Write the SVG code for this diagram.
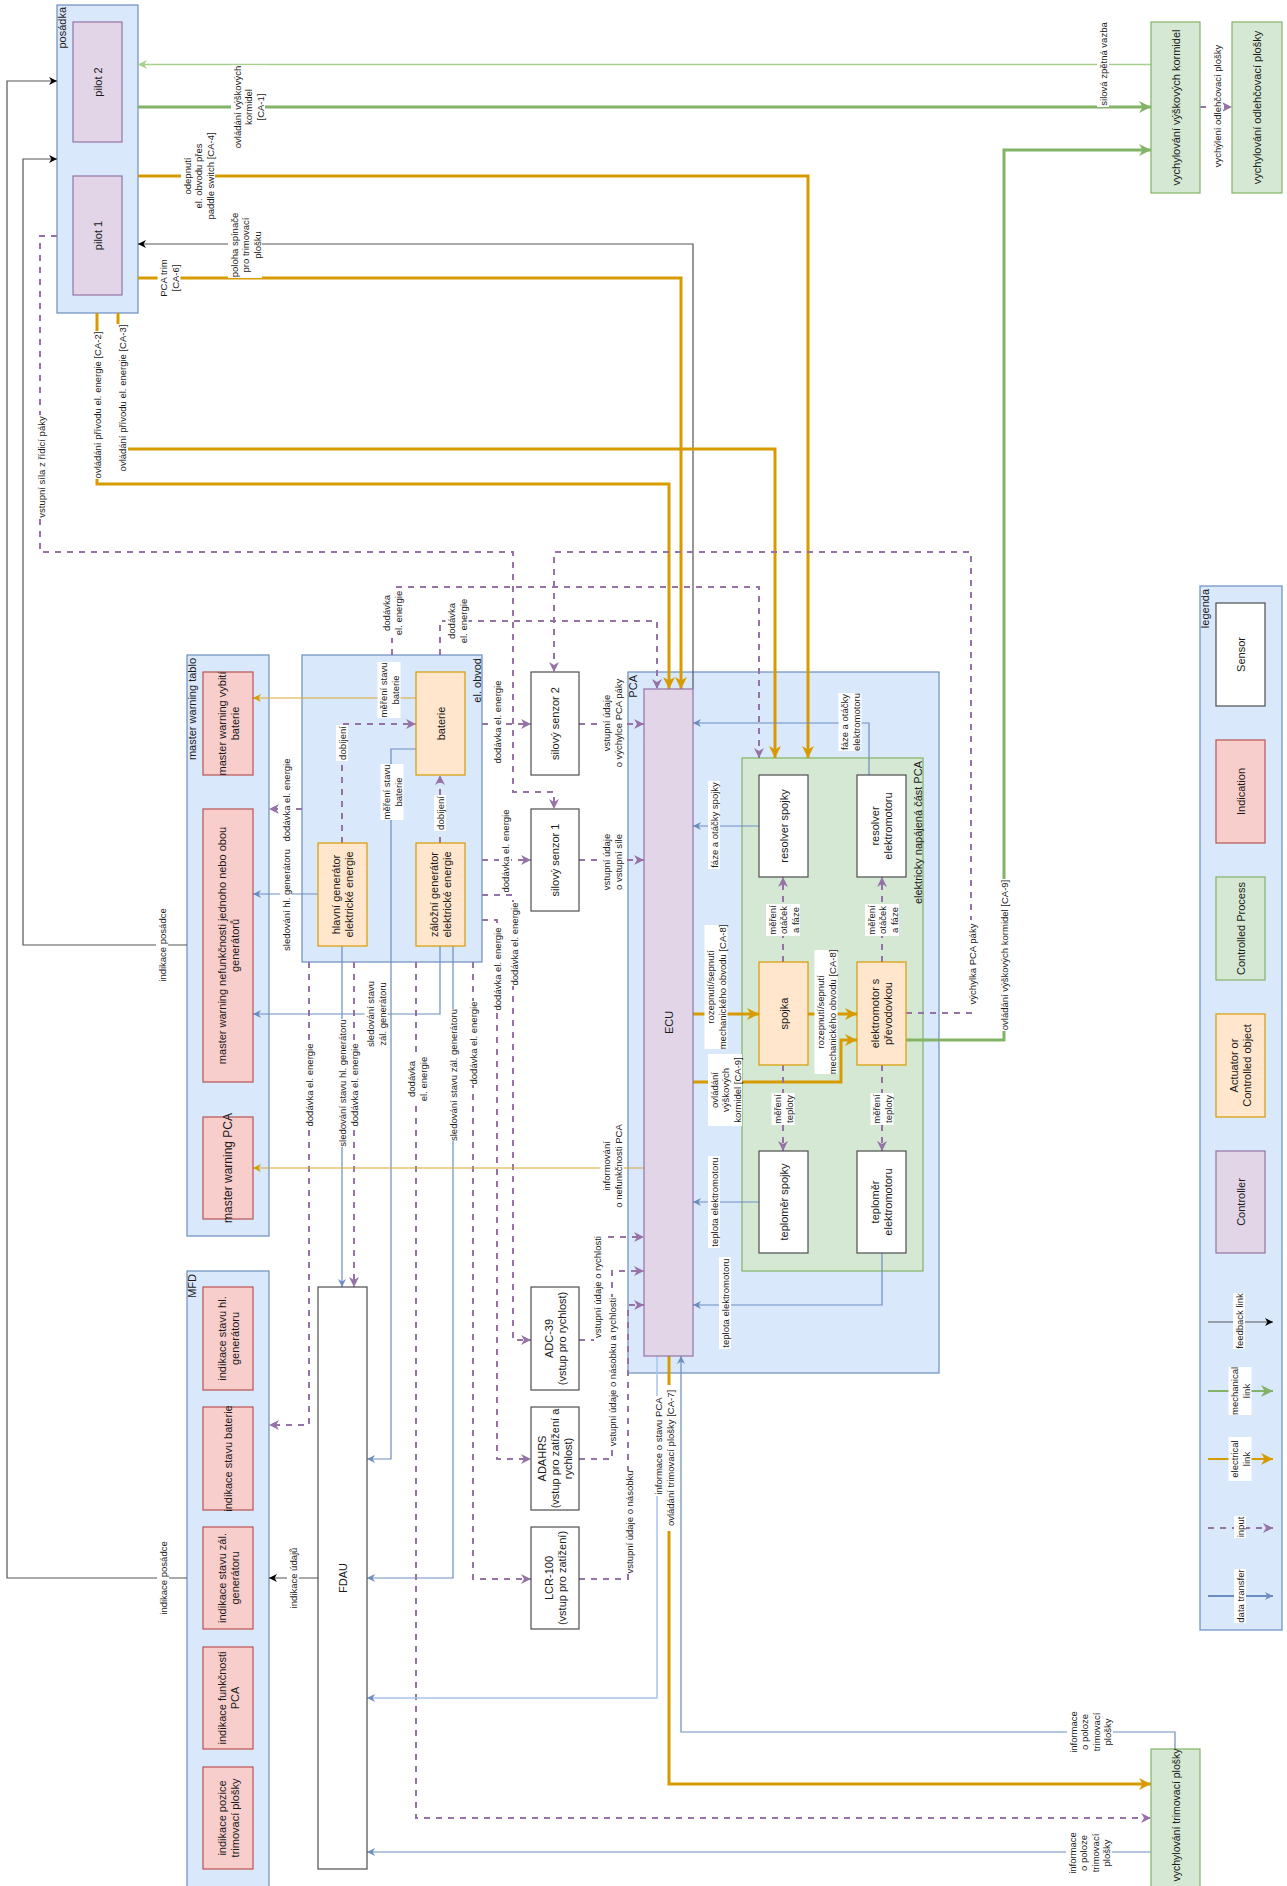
<svg xmlns="http://www.w3.org/2000/svg" width="1287" height="1886" viewBox="0 0 1287 1886">
<style>
.c{fill:#dae8fc;stroke:#6c8ebf;stroke-width:1.2}
.p{fill:#e1d5e7;stroke:#9673a6;stroke-width:1.2}
.g{fill:#d5e8d4;stroke:#82b366;stroke-width:1.2}
.o{fill:#ffe6cc;stroke:#d79b00;stroke-width:1.2}
.r{fill:#f8cecc;stroke:#b85450;stroke-width:1.2}
.s{fill:#ffffff;stroke:#4d4d4d;stroke-width:1.2}
text{font-family:"Liberation Sans",Arial,sans-serif;dominant-baseline:central;text-anchor:middle;fill:#1a1a1a}
.n{font-size:11px}
.e{font-size:9.5px}
.tl{text-anchor:end}
.bg{fill:#ffffff}
.lo{stroke:#d79b00;stroke-width:3;fill:none}
.lot{stroke:#dca733;stroke-width:1.2;fill:none}
.lb{stroke:#6c8ebf;stroke-width:1.2;fill:none}
.lbl{stroke:#a9c4eb;stroke-width:1.5;fill:none}
.lp{stroke:#9673a6;stroke-width:2;stroke-dasharray:6 6;fill:none}
.lg{stroke:#82b366;stroke-width:3;fill:none}
.lgt{stroke:#a8d08d;stroke-width:1.4;fill:none}
.lk{stroke:#555555;stroke-width:1.2;fill:none}
</style>
<defs>
<marker id="ao" viewBox="0 0 10 10" refX="10" refY="5" markerWidth="12" markerHeight="12" markerUnits="userSpaceOnUse" orient="auto"><path d="M0,0L10,5L0,10L3,5z" fill="#d79b00"/></marker>
<marker id="aot" viewBox="0 0 10 10" refX="10" refY="5" markerWidth="8" markerHeight="8" markerUnits="userSpaceOnUse" orient="auto"><path d="M0,0L10,5L0,10L3,5z" fill="#d79b00"/></marker>
<marker id="ab" viewBox="0 0 10 10" refX="10" refY="5" markerWidth="8" markerHeight="8" markerUnits="userSpaceOnUse" orient="auto"><path d="M0,0L10,5L0,10L3,5z" fill="#6c8ebf"/></marker>
<marker id="ap" viewBox="0 0 10 10" refX="10" refY="5" markerWidth="10" markerHeight="10" markerUnits="userSpaceOnUse" orient="auto"><path d="M0,0L10,5L0,10L3,5z" fill="#9673a6"/></marker>
<marker id="ag" viewBox="0 0 10 10" refX="10" refY="5" markerWidth="12" markerHeight="12" markerUnits="userSpaceOnUse" orient="auto"><path d="M0,0L10,5L0,10L3,5z" fill="#82b366"/></marker>
<marker id="agt" viewBox="0 0 10 10" refX="10" refY="5" markerWidth="9" markerHeight="9" markerUnits="userSpaceOnUse" orient="auto"><path d="M0,0L10,5L0,10L3,5z" fill="#a8d08d"/></marker>
<marker id="ak" viewBox="0 0 10 10" refX="10" refY="5" markerWidth="8" markerHeight="8" markerUnits="userSpaceOnUse" orient="auto"><path d="M0,0L10,5L0,10L3,5z" fill="#000000"/></marker>
</defs>
<rect width="1287" height="1886" fill="#ffffff"/>

<g id="containers">
<g id="posadka"><rect class="c" x="57" y="5" width="81" height="308"/><text class="n tl" transform="translate(61.5,7) rotate(-90)">posádka</text></g>
<g id="mw-tablo"><rect class="c" x="187" y="655" width="82" height="581"/><text class="n tl" transform="translate(192,658) rotate(-90)">master warning tablo</text></g>
<g id="mfd"><rect class="c" x="187" y="1271" width="82" height="625"/><text class="n tl" transform="translate(192,1274) rotate(-90)">MFD</text></g>
<g id="el-obvod"><rect class="c" x="302" y="655" width="180" height="307"/><text class="n tl" transform="translate(477,658) rotate(-90)">el. obvod</text></g>
<g id="pca"><rect class="c" x="628" y="672" width="311" height="701"/><text class="n tl" transform="translate(633,675) rotate(-90)">PCA</text></g>
<g id="pca-el"><rect class="g" x="742" y="758" width="181" height="513"/><text class="n tl" transform="translate(918,761) rotate(-90)">elektricky napájená část PCA</text></g>
<g id="legenda"><rect class="c" x="1200" y="586" width="82" height="1044"/><text class="n tl" transform="translate(1205,589) rotate(-90)">legenda</text></g>
</g>

<g id="connectors">
<path class="lgt" d="M1151,64.5H138" marker-end="url(#agt)"/>
<path class="lg" d="M138,107H1151" marker-end="url(#ag)"/>
<path class="lg" d="M906,1040H1004V150H1151" marker-end="url(#ag)"/>
<path class="lp" d="M1200,107H1232" marker-end="url(#ap)"/>
<path class="lo" d="M138,176H808V758" marker-end="url(#ao)"/>
<path class="lk" d="M693,689V244H138" marker-end="url(#ak)"/>
<path class="lo" d="M138,278H681V689" marker-end="url(#ao)"/>
<path class="lo" d="M118,313V449H775V758" marker-end="url(#ao)"/>
<path class="lo" d="M97,313V484H669V689" marker-end="url(#ao)"/>
<path class="lp" d="M57,236H40V552H513V792H554V809" marker-end="url(#ap)"/>
<path class="lp" d="M906,1013H971V552H554V672" marker-end="url(#ap)"/>
<path class="lp" d="M392,655V587H759V758" marker-end="url(#ap)"/>
<path class="lp" d="M440,655V621H657V689" marker-end="url(#ap)"/>
<path class="lot" d="M416,698H253" marker-end="url(#aot)"/>
<path class="lp" d="M342,843V724H416" marker-end="url(#ap)"/>
<path class="lp" d="M440,843V775" marker-end="url(#ap)"/>
<path class="lb" d="M416,749H391V1459H367" marker-end="url(#ab)"/>
<path class="lp" d="M302,809H269" marker-end="url(#ap)"/>
<path class="lb" d="M318,894H253" marker-end="url(#ab)"/>
<path class="lb" d="M440,946V1014H253" marker-end="url(#ab)"/>
<path class="lb" d="M453,946V1578H367" marker-end="url(#ab)"/>
<path class="lb" d="M342,946V1287" marker-end="url(#ab)"/>
<path class="lp" d="M354,962V1287" marker-end="url(#ap)"/>
<path class="lp" d="M309,962V1425H269" marker-end="url(#ap)"/>
<path class="lp" d="M416,962V1818H1151" marker-end="url(#ap)"/>
<path class="lp" d="M473,962V1579H531" marker-end="url(#ap)"/>
<path class="lp" d="M482,724H531" marker-end="url(#ap)"/>
<path class="lp" d="M482,860H531" marker-end="url(#ap)"/>
<path class="lp" d="M482,895H513V1340H531" marker-end="url(#ap)"/>
<path class="lp" d="M482,920H497V1459H531" marker-end="url(#ap)"/>
<path class="lp" d="M579,724H644" marker-end="url(#ap)"/>
<path class="lp" d="M579,860H644" marker-end="url(#ap)"/>
<path class="lp" d="M579,1340H593V1237H644" marker-end="url(#ap)"/>
<path class="lp" d="M579,1459H612V1271H644" marker-end="url(#ap)"/>
<path class="lp" d="M579,1579H628V1305H644" marker-end="url(#ap)"/>
<path class="lo" d="M693,1014H759" marker-end="url(#ao)"/>
<path class="lo" d="M808,1014H857" marker-end="url(#ao)"/>
<path class="lo" d="M693,1082H841V1040H857" marker-end="url(#ao)"/>
<path class="lot" d="M644,1168H253" marker-end="url(#aot)"/>
<path class="lb" d="M759,1202H693" marker-end="url(#ab)"/>
<path class="lb" d="M882,1253V1305H693" marker-end="url(#ab)"/>
<path class="lb" d="M759,826H693" marker-end="url(#ab)"/>
<path class="lb" d="M869,775V723H693" marker-end="url(#ab)"/>
<path class="lp" d="M783,962V877" marker-end="url(#ap)"/>
<path class="lp" d="M882,962V877" marker-end="url(#ap)"/>
<path class="lp" d="M783,1065V1151" marker-end="url(#ap)"/>
<path class="lp" d="M882,1065V1151" marker-end="url(#ap)"/>
<path class="lbl" d="M657,1356V1698H367" marker-end="url(#ab)"/>
<path class="lo" d="M669,1356V1784H1151" marker-end="url(#ao)"/>
<path class="lb" d="M1175,1749V1732H681V1356" marker-end="url(#ab)"/>
<path class="lb" d="M1151,1852H367" marker-end="url(#ab)"/>
<path class="lk" d="M318,1578H269" marker-end="url(#ak)"/>
<path class="lk" d="M187,1578H7V81H57" marker-end="url(#ak)"/>
<path class="lk" d="M187,945H23V159H57" marker-end="url(#ak)"/>
<!-- legend lines -->
<path class="lk" d="M1208,1322H1273" marker-end="url(#ak)"/>
<path class="lg" style="stroke-width:2" d="M1208,1391H1273" marker-end="url(#ag)"/>
<path class="lo" style="stroke-width:2" d="M1208,1459H1273" marker-end="url(#ao)"/>
<path class="lp" d="M1208,1528H1273" marker-end="url(#ap)"/>
<path class="lb" style="stroke-width:2" d="M1208,1596H1273" marker-end="url(#ab)"/>

<!-- edge labels -->
<g transform="translate(1103,64) rotate(-90)"><rect class="bg" x="-43" y="-6" width="86" height="12"/><text class="e">silová zpětná vazba</text></g>
<g transform="translate(248,107) rotate(-90)"><rect class="bg" x="-42" y="-17" width="84" height="34"/><text class="e"><tspan x="0" y="-11.5">ovládání výškových</tspan><tspan x="0" y="0">kormidel</tspan><tspan x="0" y="11.5">[CA-1]</tspan></text></g>
<g transform="translate(198,176) rotate(-90)"><rect class="bg" x="-46" y="-17" width="92" height="34"/><text class="e"><tspan x="0" y="-11.5">odepnutí</tspan><tspan x="0" y="0">el. obvodu přes</tspan><tspan x="0" y="11.5">paddle switch [CA-4]</tspan></text></g>
<g transform="translate(245,245) rotate(-90)"><rect class="bg" x="-33" y="-17" width="66" height="34"/><text class="e"><tspan x="0" y="-11.5">poloha spínače</tspan><tspan x="0" y="0">pro trimovací</tspan><tspan x="0" y="11.5">plošku</tspan></text></g>
<g transform="translate(169,278) rotate(-90)"><rect class="bg" x="-20" y="-11.5" width="40" height="23"/><text class="e"><tspan x="0" y="-5.75">PCA trim</tspan><tspan x="0" y="5.75">[CA-6]</tspan></text></g>
<g transform="translate(97,405) rotate(-90)"><rect class="bg" x="-74" y="-6" width="148" height="12"/><text class="e">ovládání přívodu el. energie [CA-2]</text></g>
<g transform="translate(122,398) rotate(-90)"><rect class="bg" x="-74" y="-6" width="148" height="12"/><text class="e">ovládání přívodu el. energie [CA-3]</text></g>
<g transform="translate(41,467) rotate(-90)"><rect class="bg" x="-52" y="-6" width="104" height="12"/><text class="e">vstupní síla z řídicí páky</text></g>
<g transform="translate(1217,106) rotate(-90)"><rect class="bg" x="-61" y="-6" width="122" height="12"/><text class="e">vychýlení odlehčovací plošky</text></g>
<g transform="translate(1004,955) rotate(-90)"><rect class="bg" x="-76" y="-6" width="152" height="12"/><text class="e">ovládání výškových kormidel [CA-9]</text></g>
<g transform="translate(972,964) rotate(-90)"><rect class="bg" x="-44" y="-6" width="88" height="12"/><text class="e">výchylka PCA páky</text></g>
<g transform="translate(392,613) rotate(-90)"><rect class="bg" x="-25" y="-11.5" width="50" height="23"/><text class="e"><tspan x="0" y="-5.75">dodávka</tspan><tspan x="0" y="5.75">el. energie</tspan></text></g>
<g transform="translate(457,621) rotate(-90)"><rect class="bg" x="-25" y="-11.5" width="50" height="23"/><text class="e"><tspan x="0" y="-5.75">dodávka</tspan><tspan x="0" y="5.75">el. energie</tspan></text></g>
<g transform="translate(389,690) rotate(-90)"><rect class="bg" x="-28" y="-11.5" width="56" height="23"/><text class="e"><tspan x="0" y="-5.75">měření stavu</tspan><tspan x="0" y="5.75">baterie</tspan></text></g>
<g transform="translate(342,743) rotate(-90)"><rect class="bg" x="-18" y="-6" width="36" height="12"/><text class="e">dobíjení</text></g>
<g transform="translate(392,792) rotate(-90)"><rect class="bg" x="-28" y="-11.5" width="56" height="23"/><text class="e"><tspan x="0" y="-5.75">měření stavu</tspan><tspan x="0" y="5.75">baterie</tspan></text></g>
<g transform="translate(440,813) rotate(-90)"><rect class="bg" x="-18" y="-6" width="36" height="12"/><text class="e">dobíjení</text></g>
<g transform="translate(286,800) rotate(-90)"><rect class="bg" x="-42" y="-6" width="84" height="12"/><text class="e">dodávka el. energie</text></g>
<g transform="translate(286,900) rotate(-90)"><rect class="bg" x="-53" y="-6" width="106" height="12"/><text class="e">sledování hl. generátoru</text></g>
<g transform="translate(497,722) rotate(-90)"><rect class="bg" x="-42" y="-6" width="84" height="12"/><text class="e">dodávka el. energie</text></g>
<g transform="translate(505,851) rotate(-90)"><rect class="bg" x="-42" y="-6" width="84" height="12"/><text class="e">dodávka el. energie</text></g>
<g transform="translate(514,944) rotate(-90)"><rect class="bg" x="-42" y="-6" width="84" height="12"/><text class="e">dodávka el. energie</text></g>
<g transform="translate(497,969) rotate(-90)"><rect class="bg" x="-42" y="-6" width="84" height="12"/><text class="e">dodávka el. energie</text></g>
<g transform="translate(376,1014) rotate(-90)"><rect class="bg" x="-33" y="-11.5" width="66" height="23"/><text class="e"><tspan x="0" y="-5.75">sledování stavu</tspan><tspan x="0" y="5.75">zál. generátoru</tspan></text></g>
<g transform="translate(342,1083) rotate(-90)"><rect class="bg" x="-64" y="-6" width="128" height="12"/><text class="e">sledování stavu hl. generátoru</text></g>
<g transform="translate(354,1085) rotate(-90)"><rect class="bg" x="-42" y="-6" width="84" height="12"/><text class="e">dodávka el. energie</text></g>
<g transform="translate(309,1085) rotate(-90)"><rect class="bg" x="-42" y="-6" width="84" height="12"/><text class="e">dodávka el. energie</text></g>
<g transform="translate(417,1079) rotate(-90)"><rect class="bg" x="-25" y="-11.5" width="50" height="23"/><text class="e"><tspan x="0" y="-5.75">dodávka</tspan><tspan x="0" y="5.75">el. energie</tspan></text></g>
<g transform="translate(473,1043) rotate(-90)"><rect class="bg" x="-42" y="-6" width="84" height="12"/><text class="e">dodávka el. energie</text></g>
<g transform="translate(453,1075) rotate(-90)"><rect class="bg" x="-66" y="-6" width="132" height="12"/><text class="e">sledování stavu zál. generátoru</text></g>
<g transform="translate(612,723) rotate(-90)"><rect class="bg" x="-43" y="-11.5" width="86" height="23"/><text class="e"><tspan x="0" y="-5.75">vstupní údaje</tspan><tspan x="0" y="5.75">o výchylce PCA páky</tspan></text></g>
<g transform="translate(612,862) rotate(-90)"><rect class="bg" x="-31" y="-11.5" width="62" height="23"/><text class="e"><tspan x="0" y="-5.75">vstupní údaje</tspan><tspan x="0" y="5.75">o vstupní síle</tspan></text></g>
<g transform="translate(850,722) rotate(-90)"><rect class="bg" x="-29" y="-11.5" width="58" height="23"/><text class="e"><tspan x="0" y="-5.75">fáze a otáčky</tspan><tspan x="0" y="5.75">elektromotoru</tspan></text></g>
<g transform="translate(714,825) rotate(-90)"><rect class="bg" x="-44" y="-6" width="88" height="12"/><text class="e">fáze a otáčky spojky</text></g>
<g transform="translate(783,920) rotate(-90)"><rect class="bg" x="-16" y="-17" width="32" height="34"/><text class="e"><tspan x="0" y="-11.5">měření</tspan><tspan x="0" y="0">otáček</tspan><tspan x="0" y="11.5">a fáze</tspan></text></g>
<g transform="translate(882,920) rotate(-90)"><rect class="bg" x="-16" y="-17" width="32" height="34"/><text class="e"><tspan x="0" y="-11.5">měření</tspan><tspan x="0" y="0">otáček</tspan><tspan x="0" y="11.5">a fáze</tspan></text></g>
<g transform="translate(716,987) rotate(-90)"><rect class="bg" x="-62" y="-11.5" width="124" height="23"/><text class="e"><tspan x="0" y="-5.75">rozepnutí/sepnutí</tspan><tspan x="0" y="5.75">mechanického obvodu [CA-8]</tspan></text></g>
<g transform="translate(826,1012) rotate(-90)"><rect class="bg" x="-62" y="-11.5" width="124" height="23"/><text class="e"><tspan x="0" y="-5.75">rozepnutí/sepnutí</tspan><tspan x="0" y="5.75">mechanického obvodu [CA-8]</tspan></text></g>
<g transform="translate(725,1090) rotate(-90)"><rect class="bg" x="-36" y="-17" width="72" height="34"/><text class="e"><tspan x="0" y="-11.5">ovládání</tspan><tspan x="0" y="0">výškových</tspan><tspan x="0" y="11.5">kormidel [CA-9]</tspan></text></g>
<g transform="translate(783,1109) rotate(-90)"><rect class="bg" x="-16" y="-11.5" width="32" height="23"/><text class="e"><tspan x="0" y="-5.75">měření</tspan><tspan x="0" y="5.75">teploty</tspan></text></g>
<g transform="translate(882,1109) rotate(-90)"><rect class="bg" x="-16" y="-11.5" width="32" height="23"/><text class="e"><tspan x="0" y="-5.75">měření</tspan><tspan x="0" y="5.75">teploty</tspan></text></g>
<g transform="translate(612,1166) rotate(-90)"><rect class="bg" x="-42" y="-11.5" width="84" height="23"/><text class="e"><tspan x="0" y="-5.75">informování</tspan><tspan x="0" y="5.75">o nefunkčnosti PCA</tspan></text></g>
<g transform="translate(714,1202) rotate(-90)"><rect class="bg" x="-46" y="-6" width="92" height="12"/><text class="e">teplota elektromotoru</text></g>
<g transform="translate(725,1303) rotate(-90)"><rect class="bg" x="-46" y="-6" width="92" height="12"/><text class="e">teplota elektromotoru</text></g>
<g transform="translate(597,1287) rotate(-90)"><rect class="bg" x="-52" y="-6" width="104" height="12"/><text class="e">vstupní údaje o rychlosti</text></g>
<g transform="translate(612,1372) rotate(-90)"><rect class="bg" x="-75" y="-6" width="150" height="12"/><text class="e">vstupní údaje o násobku a rychlosti</text></g>
<g transform="translate(629,1522) rotate(-90)"><rect class="bg" x="-51" y="-6" width="102" height="12"/><text class="e">vstupní údaje o násobku</text></g>
<g transform="translate(658,1446) rotate(-90)"><rect class="bg" x="-50" y="-6" width="100" height="12"/><text class="e">informace o stavu PCA</text></g>
<g transform="translate(670,1458) rotate(-90)"><rect class="bg" x="-73" y="-6" width="146" height="12"/><text class="e">ovládání trimovací plošky [CA-7]</text></g>
<g transform="translate(1090,1732) rotate(-90)"><rect class="bg" x="-22" y="-23" width="44" height="46"/><text class="e"><tspan x="0" y="-17.25">informace</tspan><tspan x="0" y="-5.75">o poloze</tspan><tspan x="0" y="5.75">trimovací</tspan><tspan x="0" y="17.25">plošky</tspan></text></g>
<g transform="translate(1089,1853) rotate(-90)"><rect class="bg" x="-22" y="-23" width="44" height="46"/><text class="e"><tspan x="0" y="-17.25">informace</tspan><tspan x="0" y="-5.75">o poloze</tspan><tspan x="0" y="5.75">trimovací</tspan><tspan x="0" y="17.25">plošky</tspan></text></g>
<g transform="translate(293,1578) rotate(-90)"><rect class="bg" x="-31" y="-6" width="62" height="12"/><text class="e">indikace údajů</text></g>
<g transform="translate(163,1578) rotate(-90)"><rect class="bg" x="-37" y="-6" width="74" height="12"/><text class="e">indikace posádce</text></g>
<g transform="translate(162,945) rotate(-90)"><rect class="bg" x="-37" y="-6" width="74" height="12"/><text class="e">indikace posádce</text></g>
<g transform="translate(1239,1321) rotate(-90)"><rect class="bg" x="-28" y="-6" width="56" height="12"/><text class="e">feedback link</text></g>
<g transform="translate(1240,1391) rotate(-90)"><rect class="bg" x="-24" y="-11.5" width="48" height="23"/><text class="e"><tspan x="0" y="-5.75">mechanical</tspan><tspan x="0" y="5.75">link</tspan></text></g>
<g transform="translate(1240,1459) rotate(-90)"><rect class="bg" x="-22" y="-11.5" width="44" height="23"/><text class="e"><tspan x="0" y="-5.75">electrical</tspan><tspan x="0" y="5.75">link</tspan></text></g>
<g transform="translate(1240,1527) rotate(-90)"><rect class="bg" x="-11" y="-6" width="22" height="12"/><text class="e">input</text></g>
<g transform="translate(1240,1596) rotate(-90)"><rect class="bg" x="-27" y="-6" width="54" height="12"/><text class="e">data transfer</text></g>
</g>

<g id="nodes">
<g id="pilot2"><rect class="p" x="73" y="22" width="49" height="120"/><text class="n" transform="translate(97.5,82) rotate(-90)">pilot 2</text></g>
<g id="pilot1"><rect class="p" x="73" y="176" width="49" height="119"/><text class="n" transform="translate(97.5,235.5) rotate(-90)">pilot 1</text></g>
<g id="vvk"><rect class="g" x="1151" y="22" width="49" height="171"/><text class="n" transform="translate(1175.5,107.5) rotate(-90)">vychylování výškových kormidel</text></g>
<g id="vop"><rect class="g" x="1232" y="22" width="50" height="171"/><text class="n" transform="translate(1257,107.5) rotate(-90)">vychylování odlehčovací plošky</text></g>
<g id="mw-baterie"><rect class="r" x="203" y="672" width="50" height="103"/><text class="n" transform="translate(228,723.5) rotate(-90)"><tspan x="0" y="-6.5">master warning vybití</tspan><tspan x="0" y="6.5">baterie</tspan></text></g>
<g id="mw-gen"><rect class="r" x="203" y="809" width="50" height="273"/><text class="n" transform="translate(228,945.5) rotate(-90)"><tspan x="0" y="-6.5">master warning nefunkčnosti jednoho nebo obou</tspan><tspan x="0" y="6.5">generátorů</tspan></text></g>
<g id="mw-pca"><rect class="r" x="203" y="1117" width="50" height="102"/><text class="n" style="font-size:12px" transform="translate(228,1168) rotate(-90)">master warning PCA</text></g>
<g id="mfd-hl"><rect class="r" x="203" y="1287" width="50" height="103"/><text class="n" transform="translate(228,1338.5) rotate(-90)"><tspan x="0" y="-6.5">indikace stavu hl.</tspan><tspan x="0" y="6.5">generátoru</tspan></text></g>
<g id="mfd-bat"><rect class="r" x="203" y="1407" width="50" height="103"/><text class="n" transform="translate(228,1458.5) rotate(-90)">indikace stavu baterie</text></g>
<g id="mfd-zal"><rect class="r" x="203" y="1527" width="50" height="102"/><text class="n" transform="translate(228,1578) rotate(-90)"><tspan x="0" y="-6.5">indikace stavu zál.</tspan><tspan x="0" y="6.5">generátoru</tspan></text></g>
<g id="mfd-pca"><rect class="r" x="203" y="1647" width="50" height="102"/><text class="n" transform="translate(228,1698) rotate(-90)"><tspan x="0" y="-6.5">indikace funkčnosti</tspan><tspan x="0" y="6.5">PCA</tspan></text></g>
<g id="mfd-trim"><rect class="r" x="203" y="1767" width="50" height="102"/><text class="n" transform="translate(228,1818) rotate(-90)"><tspan x="0" y="-6.5">indikace pozice</tspan><tspan x="0" y="6.5">trimovací plošky</tspan></text></g>
<g id="baterie"><rect class="o" x="416" y="672" width="49" height="103"/><text class="n" transform="translate(440.5,723.5) rotate(-90)">baterie</text></g>
<g id="hl-gen"><rect class="o" x="318" y="843" width="49" height="103"/><text class="n" transform="translate(342.5,894.5) rotate(-90)"><tspan x="0" y="-6.5">hlavní generátor</tspan><tspan x="0" y="6.5">elektrické energie</tspan></text></g>
<g id="zal-gen"><rect class="o" x="416" y="843" width="49" height="103"/><text class="n" transform="translate(440.5,894.5) rotate(-90)"><tspan x="0" y="-6.5">záložní generátor</tspan><tspan x="0" y="6.5">elektrické energie</tspan></text></g>
<g id="senzor2"><rect class="s" x="531" y="672" width="48" height="103"/><text class="n" transform="translate(555,723.5) rotate(-90)">silový senzor 2</text></g>
<g id="senzor1"><rect class="s" x="531" y="809" width="48" height="102"/><text class="n" transform="translate(555,860) rotate(-90)">silový senzor 1</text></g>
<g id="ecu"><rect class="p" x="644" y="689" width="49" height="667"/><text class="n" transform="translate(668.5,1022.5) rotate(-90)">ECU</text></g>
<g id="res-spojky"><rect class="s" x="759" y="775" width="49" height="102"/><text class="n" transform="translate(783.5,826) rotate(-90)">resolver spojky</text></g>
<g id="res-motoru"><rect class="s" x="857" y="775" width="49" height="102"/><text class="n" transform="translate(881.5,826) rotate(-90)"><tspan x="0" y="-6.5">resolver</tspan><tspan x="0" y="6.5">elektromotoru</tspan></text></g>
<g id="spojka"><rect class="o" x="759" y="962" width="49" height="103"/><text class="n" transform="translate(783.5,1013.5) rotate(-90)">spojka</text></g>
<g id="motor"><rect class="o" x="857" y="962" width="49" height="103"/><text class="n" transform="translate(881.5,1013.5) rotate(-90)"><tspan x="0" y="-6.5">elektromotor s</tspan><tspan x="0" y="6.5">převodovkou</tspan></text></g>
<g id="tep-spojky"><rect class="s" x="759" y="1151" width="49" height="102"/><text class="n" transform="translate(783.5,1202) rotate(-90)">teploměr spojky</text></g>
<g id="tep-motoru"><rect class="s" x="857" y="1151" width="49" height="102"/><text class="n" transform="translate(881.5,1202) rotate(-90)"><tspan x="0" y="-6.5">teploměr</tspan><tspan x="0" y="6.5">elektromotoru</tspan></text></g>
<g id="fdau"><rect class="s" x="318" y="1287" width="49" height="582"/><text class="n" transform="translate(342.5,1578) rotate(-90)">FDAU</text></g>
<g id="adc"><rect class="s" x="531" y="1287" width="48" height="103"/><text class="n" transform="translate(555,1338.5) rotate(-90)"><tspan x="0" y="-6.5">ADC-39</tspan><tspan x="0" y="6.5">(vstup pro rychlost)</tspan></text></g>
<g id="adahrs"><rect class="s" x="531" y="1407" width="48" height="103"/><text class="n" transform="translate(555,1458.5) rotate(-90)"><tspan x="0" y="-13">ADAHRS</tspan><tspan x="0" y="0">(vstup pro zatížení a</tspan><tspan x="0" y="13">rychlost)</tspan></text></g>
<g id="lcr"><rect class="s" x="531" y="1527" width="48" height="102"/><text class="n" transform="translate(555,1578) rotate(-90)"><tspan x="0" y="-6.5">LCR-100</tspan><tspan x="0" y="6.5">(vstup pro zatížení)</tspan></text></g>
<g id="trim"><rect class="g" x="1151" y="1749" width="49" height="160"/><text class="n" style="font-size:10.5px" transform="translate(1175.5,1815) rotate(-90)">vychylování trimovací plošky</text></g>
<g id="leg-sensor"><rect class="s" x="1216" y="603" width="49" height="103"/><text class="n" transform="translate(1240.5,654.5) rotate(-90)">Sensor</text></g>
<g id="leg-indication"><rect class="r" x="1216" y="740" width="49" height="103"/><text class="n" transform="translate(1240.5,791.5) rotate(-90)">Indication</text></g>
<g id="leg-process"><rect class="g" x="1216" y="877" width="49" height="103"/><text class="n" transform="translate(1240.5,928.5) rotate(-90)">Controlled Process</text></g>
<g id="leg-actuator"><rect class="o" x="1216" y="1014" width="49" height="103"/><text class="n" transform="translate(1240.5,1065.5) rotate(-90)"><tspan x="0" y="-6.5">Actuator or</tspan><tspan x="0" y="6.5">Controlled object</tspan></text></g>
<g id="leg-controller"><rect class="p" x="1216" y="1151" width="49" height="102"/><text class="n" transform="translate(1240.5,1202) rotate(-90)">Controller</text></g>
</g>
</svg>
